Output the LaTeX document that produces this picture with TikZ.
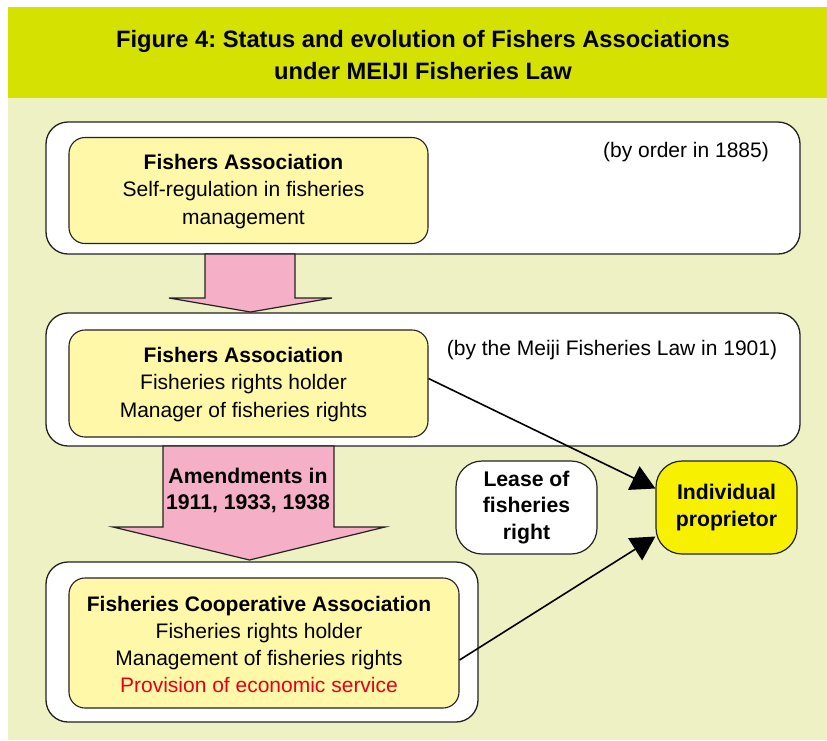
\documentclass[tikz,border=0pt]{standalone}
\usepackage{fontspec}
\setmainfont{Liberation Sans}
\frenchspacing
\usetikzlibrary{arrows.meta,calc}
\definecolor{bandgreen}{HTML}{D5E100}
\definecolor{paleback}{HTML}{EEF1C3}
\definecolor{paleyellow}{HTML}{FFF8A8}
\definecolor{blockpink}{HTML}{F5AFC6}
\definecolor{brightyellow}{HTML}{F7F000}
\definecolor{servred}{HTML}{E2001A}
\definecolor{edge}{HTML}{222222}
\tikzset{
  txt/.style={font=\fontsize{21}{27.5}\selectfont, align=center, inner sep=0pt},
  stagebox/.style={draw=edge, line width=1.3pt, fill=white, rounded corners=22pt, inner sep=0pt},
  assocbox/.style={draw=edge, line width=1.1pt, fill=paleyellow, rounded corners=16pt, inner sep=0pt},
  sidebox/.style={draw=edge, line width=1.2pt, rounded corners=26pt, inner sep=0pt,
                  minimum width=141pt, minimum height=93pt,
                  font=\bfseries\fontsize{21.2}{26.5}\selectfont, align=center},
  blockarrow/.style={draw=edge, line width=1.2pt, fill=blockpink, line join=miter},
  link/.style={draw=black, line width=1.6pt, -{Triangle[length=24pt,width=26pt]}}
}
\begin{document}
\begin{tikzpicture}[x=1pt,y=1pt]
\useasboundingbox (0,0) rectangle (827,-740);
\fill[white] (0,0) rectangle (827,-740);
% title band and background
\fill[bandgreen] (8,-7) rectangle (827,-98);
\fill[paleback] (8,-98) rectangle (827,-740);
\node[font=\bfseries\fontsize{23.7}{32}\selectfont, align=center, inner sep=0pt] (title) at (423,-55)
  {Figure 4: Status and evolution of Fishers Associations\\under MEIJI Fisheries Law};

% stage 1
\node[stagebox, minimum width=754pt, minimum height=132pt] (stage1) at (423,-188) {};
\node[assocbox, minimum width=359pt, minimum height=106pt] (assoc1) at (248.5,-190.5) {};
\node[txt, xshift=-5pt, yshift=-1pt] (assoc1text) at (assoc1)
  {\textbf{Fishers Association}\\Self-regulation in fisheries\\management};
\node[txt] (order1) at (686,-152) {(by order in 1885)};

% stage 2
\node[stagebox, minimum width=754pt, minimum height=133pt] (stage2) at (423,-379.5) {};
\node[assocbox, minimum width=359pt, minimum height=107pt] (assoc2) at (248.5,-383.5) {};
\node[txt, xshift=-5pt, yshift=-1pt] (assoc2text) at (assoc2)
  {\textbf{Fishers Association}\\Fisheries rights holder\\Manager of fisheries rights};
\node[txt] (order2) at (612,-350) {(by the Meiji Fisheries Law in 1901)};

% stage 3
\node[stagebox, minimum width=432pt, minimum height=160pt] (stage3) at (262,-642) {};
\node[assocbox, minimum width=390pt, minimum height=130pt] (assoc3) at (264,-643) {};
\node[txt, xshift=-5pt, yshift=-1pt, font=\fontsize{21}{27}\selectfont] (assoc3text) at (assoc3)
  {\textbf{Fisheries Cooperative Association}\\Fisheries rights holder\\Management of fisheries rights\\\textcolor{servred}{Provision of economic service}};

% block arrows between stages
\draw[blockarrow] (205,-254) -- (295,-254) -- (295,-298) -- (332,-298) -- (250.5,-312)
  -- (169,-298) -- (205,-298) -- cycle;
\draw[blockarrow] (163,-446) -- (334,-446) -- (334,-527) -- (385,-527) -- (249.5,-560)
  -- (113,-527) -- (163,-527) -- cycle;
\node[font=\bfseries\fontsize{21.2}{26}\selectfont, align=center, inner sep=0pt] (amend) at (248,-490)
  {Amendments in\\1911, 1933, 1938};

% side boxes
\node[sidebox, fill=white] (lease) at (526.5,-507.5) {Lease of\\fisheries\\right};
\node[sidebox, fill=brightyellow] (indiv) at (726.5,-507.5) {Individual\\proprietor};

% leasing links
\draw[link] ([yshift=5pt]assoc2.east) -- ([yshift=19pt]indiv.west);
\draw[link] ([yshift=-17pt]assoc3.east) -- ([yshift=-29pt]indiv.west);
\end{tikzpicture}
\end{document}
